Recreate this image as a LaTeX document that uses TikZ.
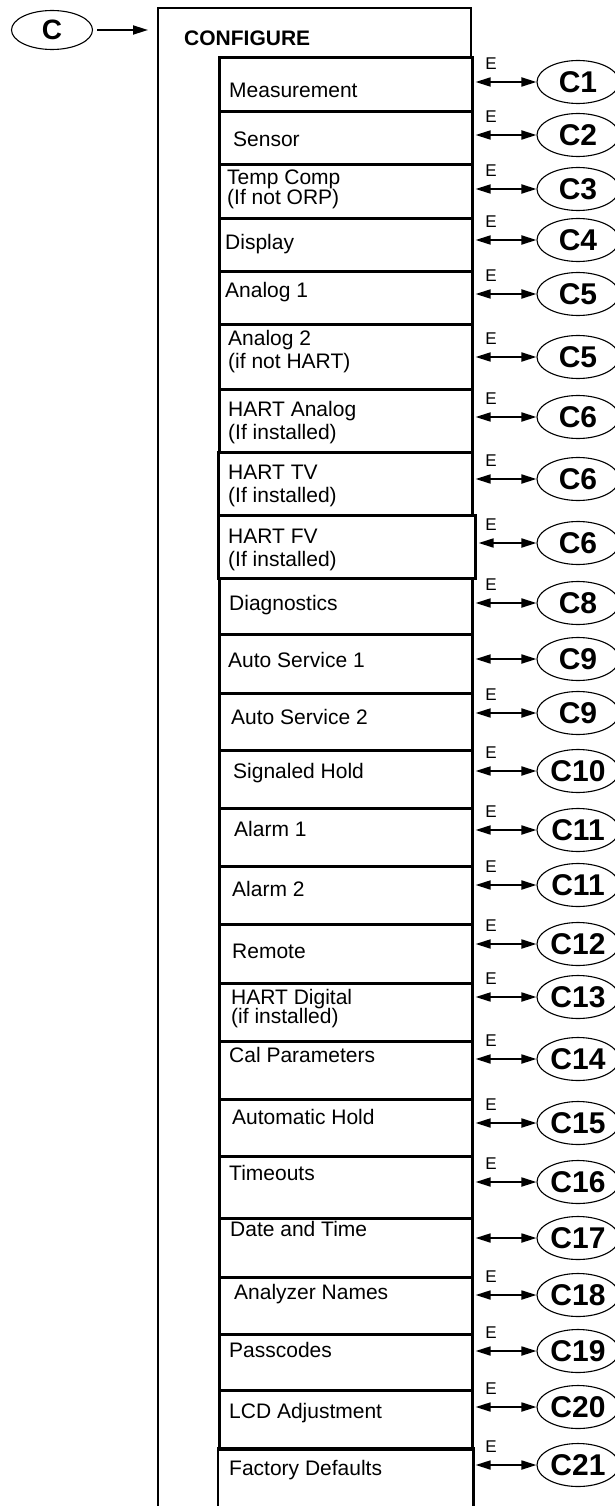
\documentclass[tikz,border=0pt]{standalone}
\usepackage{fontspec}
\setmainfont{Liberation Sans}
\usetikzlibrary{shapes.geometric,arrows.meta}
\tikzset{
  rowbox/.style={draw, line width=2.6pt, rectangle, inner sep=0pt, anchor=north west},
  rowtext/.style={anchor=west, inner sep=0pt, align=left, font=\fontsize{21}{23}\selectfont},
  ell/.style={draw, ellipse, line width=1.1pt, inner sep=0pt, minimum width=82pt, minimum height=43pt, font=\fontsize{30}{30}\bfseries\selectfont},
  elab/.style={inner sep=0pt, font=\fontsize{17}{17}\selectfont},
  dbl/.style={line width=1.8pt, {Triangle[length=15pt,width=9pt]}-{Triangle[length=15pt,width=9pt]}, shorten <=2pt},
  sarr/.style={line width=1.8pt, -{Triangle[length=15pt,width=9pt]}}
}
\begin{document}
\begin{tikzpicture}[x=1pt,y=-1pt]
\useasboundingbox (0,0) rectangle (615,1506);
% outer CONFIGURE frame
\draw[line width=2.6pt] (158,1512) -- (158,8) -- (471,8) -- (471,56);
\node[anchor=west, inner sep=0pt, font=\fontsize{21}{21}\bfseries\selectfont] (cfg) at (184,38) {CONFIGURE};
% entry ellipse C
\node[ell, minimum width=81pt, minimum height=39pt, font=\fontsize{28}{28}\bfseries\selectfont] (C) at (52,30) {C};
\coordinate (cin) at (148,30);
\draw[sarr] ([xshift=4pt]C.east) -- (cin);
% rows
\foreach \i/\xl/\xr/\t/\b/\tx/\ty/\ay/\lab/\txt in {
 1/218/471/56/110/229/90/82/C1/{Measurement},
 2/218/471/110/163/233/139/135/C2/{Sensor},
 3/218/471/163/217/227/189/189/C3/{Temp Comp\\[-3pt](If not ORP)},
 4/218/471/217/270/225/244/240/C4/{Display},
 5/218/471/270/323/225/292/294/C5/{Analog 1},
 6/218/471/323/388/228/352/357/C5/{Analog 2\\(if not HART)},
 7/218/471/388/451/228/423/417/C6/{HART Analog\\(If installed)},
 8/217/471/451/514/228/486/479/C6/{HART TV\\(If installed)},
 9/217/474/514/577/228/550/543/C6/{HART FV\\(If installed)},
 10/218/471/577/633/229/605/603/C8/{Diagnostics},
 11/218/471/633/692/228/660/659/C9/{Auto Service 1},
 12/218/471/692/749/231/717/713/C9/{Auto Service 2},
 13/218/471/749/807/233/773/771/C10/{Signaled Hold},
 14/218/471/807/865/234/829/830/C11/{Alarm 1},
 15/218/471/865/923/232/889/885/C11/{Alarm 2},
 16/218/471/923/982/232/951/944/C12/{Remote},
 17/218/471/982/1040/231/1009/997/C13/{HART Digital\\[-4pt](if installed)},
 18/218/471/1040/1098/229/1055/1059/C14/{Cal Parameters},
 19/218/471/1098/1155/232/1117/1123/C15/{Automatic Hold},
 20/218/471/1155/1217/229/1173/1182/C16/{Timeouts},
 21/218/471/1217/1276/230/1229/1238/C17/{Date and Time},
 22/218/471/1276/1333/234/1294/1295/C18/{Analyzer Names},
 23/218/471/1333/1389/229/1350/1351/C19/{Passcodes},
 24/218/471/1389/1448/229/1413/1407/C20/{LCD Adjustment}}{
  \pgfmathsetmacro\w{\xr-\xl}
  \pgfmathsetmacro\h{\b-\t}
  \node[rowbox, minimum width=\w pt, minimum height=\h pt] (r\i) at (\xl,\t) {};
  \node[rowtext] (t\i) at (\tx,\ty) {\txt};
  \node[ell] (c\i) at (578,\ay) {\lab};
  \draw[dbl] (r\i.east |- c\i.west) -- (c\i.west);
}
% last row, open at the bottom
\node[rowbox, draw=none, minimum width=253pt, minimum height=64pt] (r25) at (218,1448) {};
\draw[line width=2.6pt] (r25.south west) -- (r25.north west) -- (r25.north east) -- (r25.south east);
\node[rowtext] (t25) at (229,1470) {Factory Defaults};
\node[ell] (c25) at (578,1465) {C21};
\draw[dbl] (r25.east |- c25.west) -- (c25.west);
% E labels
\foreach \i in {1,2,3,4,5,6,7,8,9,10,12,13,14,15,16,17,18,19,20,22,23,24,25}{
  \node[elab] (e\i) at ([xshift=-87pt,yshift=18pt]c\i.center) {E};
}
\end{tikzpicture}
\end{document}
